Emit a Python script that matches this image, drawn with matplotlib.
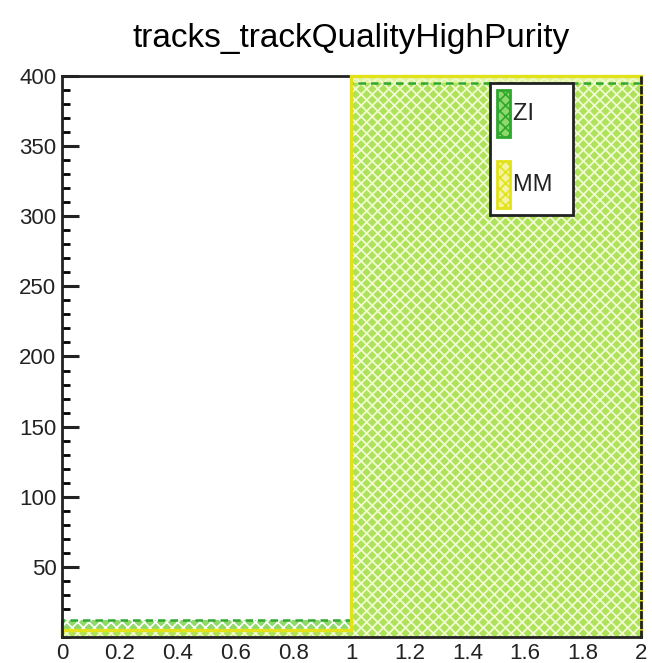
import matplotlib
matplotlib.use("Agg")
import matplotlib.pyplot as plt
from matplotlib.patches import Patch
from matplotlib.ticker import MultipleLocator

edges = [0.0, 1.0, 2.0]
zi_counts = [12, 395]
mm_counts = [5, 400]
labels = ["ZI", "MM"]

plt.rcParams['font.family'] = ['Liberation Sans', 'DejaVu Sans']
plt.rcParams['hatch.linewidth'] = 1.2
plt.rcParams['hatch.color'] = 'white'

fig = plt.figure(figsize=(6.52, 6.63), dpi=100)
ax = fig.add_axes([0.0951, 0.0392, 0.888, 0.8462])

# ZI histogram: green hatched fill with dashed outline
ax.stairs(zi_counts, edges, fill=True, facecolor='#8fd86a', edgecolor='white',
          hatch='xxx', linewidth=0, zorder=2)
ax.stairs(zi_counts, edges, color='#2fa82f', linewidth=1.8, linestyle=(0, (3, 2)), zorder=4)
# MM histogram: yellow hatched fill with solid outline
ax.stairs(mm_counts, edges, fill=True, facecolor='#c8ec50', edgecolor='white',
          hatch='xxx', linewidth=0, alpha=0.55, zorder=3)
mm_line = ax.stairs(mm_counts, edges, color='#e2e21a', linewidth=2.4, zorder=7)
mm_line.set_clip_on(False)

ax.set_xlim(0, 2)
ax.set_ylim(0, 400)
ax.xaxis.set_minor_locator(MultipleLocator(0.04))
ax.yaxis.set_minor_locator(MultipleLocator(10))
ax.set_xticks([0, 0.2, 0.4, 0.6, 0.8, 1.0, 1.2, 1.4, 1.6, 1.8, 2.0])
ax.set_xticklabels(['0', '0.2', '0.4', '0.6', '0.8', '1', '1.2', '1.4', '1.6', '1.8', '2'])
ax.set_yticks([50, 100, 150, 200, 250, 300, 350, 400])
ax.tick_params(axis='both', which='major', direction='in', length=12, width=2.2,
               labelsize=16, colors='#222222', top=False, right=False, pad=4)
ax.tick_params(axis='both', which='minor', direction='in', length=6, width=2.0,
               top=False, right=False)
for name, s in ax.spines.items():
    s.set_linewidth(2.0)
    s.set_color('#222222')
    s.set_zorder(5 if name == 'top' else 9)
ax.spines['right'].set_linestyle((0, (2, 1.5)))

ax.set_title('tracks_trackQualityHighPurity', fontsize=24, pad=21)

handles = [Patch(facecolor='#8fd86a', edgecolor='#2fa82f', hatch='xxx', linewidth=2),
           Patch(facecolor='#f4f4a0', edgecolor='#e2e21a', hatch='xxx', linewidth=2)]
leg = ax.legend(handles, labels, loc='upper left', bbox_to_anchor=(0.739, 0.988),
                fancybox=False, edgecolor='#222222', framealpha=1, fontsize=17,
                handlelength=0.55, handleheight=2.7, labelspacing=1.0,
                borderpad=0.3, handletextpad=0.15, borderaxespad=0)
leg.get_frame().set_linewidth(2)
leg.set_zorder(10)
for t in leg.get_texts():
    t.set_color('#222222')
    t.set_text(t.get_text() + '  ')

fig.savefig('out.png', dpi=100)
